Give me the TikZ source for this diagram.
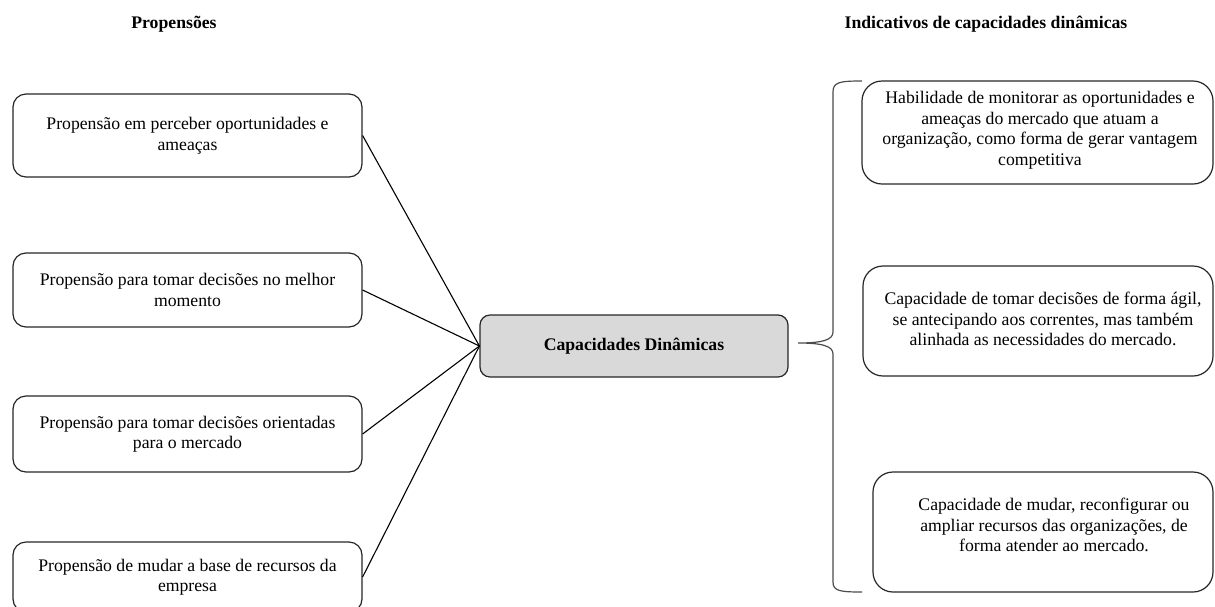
\documentclass[tikz,border=0pt]{standalone}
\usepackage{fontspec}
\setmainfont{Liberation Serif}
\begin{document}
\begin{tikzpicture}[x=1pt,y=-1pt,
  txt/.style={font=\fontsize{17.7}{20.5}\selectfont, align=center, inner sep=0pt},
  rtxt/.style={font=\fontsize{17.7}{20.5}\selectfont, align=center, inner sep=0pt},
  head/.style={font=\fontsize{17.7}{20}\selectfont\bfseries, inner sep=0pt, anchor=base},
  leftbox/.style={draw=black!85, line width=1.2pt, rounded corners=13pt, txt,
    minimum width=349pt},
  rightbox/.style={draw=black!85, line width=1.2pt, rounded corners=20pt},
  corebox/.style={draw=black!85, line width=1.2pt, rounded corners=10pt, fill=black!15,
    minimum width=308pt, minimum height=62pt, inner sep=0pt,
    font=\fontsize{17.7}{20}\selectfont\bfseries},
  link/.style={draw=black, line width=1.1pt},
  brace/.style={draw=black!70, line width=1.2pt}]
\useasboundingbox (0,0) rectangle (1215,606);
\clip (0,0) rectangle (1215,606);

% column headings
\node[head] (hleft) at (174,28) {Propensões};
\node[head] (hright) at (986,28) {Indicativos de capacidades dinâmicas};

% propensities
\node[leftbox, minimum height=83pt] (p1) at (187.5,135.5)
  {Propensão em perceber oportunidades e\\ameaças};
\node[leftbox, minimum height=74pt] (p2) at (187.5,290)
  {Propensão para tomar decisões no melhor\\momento};
\node[leftbox, minimum height=76pt] (p3) at (187.5,434)
  {Propensão para tomar decisões orientadas\\para o mercado};
\node[leftbox, minimum height=70pt] (p4) at (187.5,577)
  {Propensão de mudar a base de recursos da\\empresa};

% central concept
\node[corebox] (core) at (634,346) {Capacidades Dinâmicas};

\foreach \p in {p1,p2,p3,p4}
  \draw[link] (\p.east) -- (core.west);

% indicators
\node[rightbox, minimum width=351pt, minimum height=103pt] (i1) at (1037.5,132.5) {};
\node[rightbox, minimum width=350pt, minimum height=110pt] (i2) at (1038,321) {};
\node[rightbox, minimum width=340pt, minimum height=120pt] (i3) at (1043,532) {};

\node[rtxt] (t1) at (1040,130)
  {Habilidade de monitorar as oportunidades e\\ameaças do mercado que atuam a\\organização, como forma de gerar vantagem\\competitiva};
\node[rtxt] (t2) at (1043,319)
  {Capacidade de tomar decisões de forma ágil,\\se antecipando aos correntes, mas também\\alinhada as necessidades do mercado.};
\node[rtxt] (t3) at (1054,525)
  {Capacidade de mudar, reconfigurar ou\\ampliar recursos das organizações, de\\forma atender ao mercado.};

% brace grouping the indicators
\coordinate (btop) at (862,81);
\coordinate (bbot) at (862,592);
\coordinate (btip) at (798,343);
\draw[brace] (btop) .. controls (840,81) and (833,82) .. (833,92)
  -- (833,332) .. controls (833,340) and (822,343) .. (btip)
  .. controls (822,343) and (833,346) .. (833,354)
  -- (833,582) .. controls (833,591) and (840,592) .. (bbot);
\end{tikzpicture}
\end{document}
